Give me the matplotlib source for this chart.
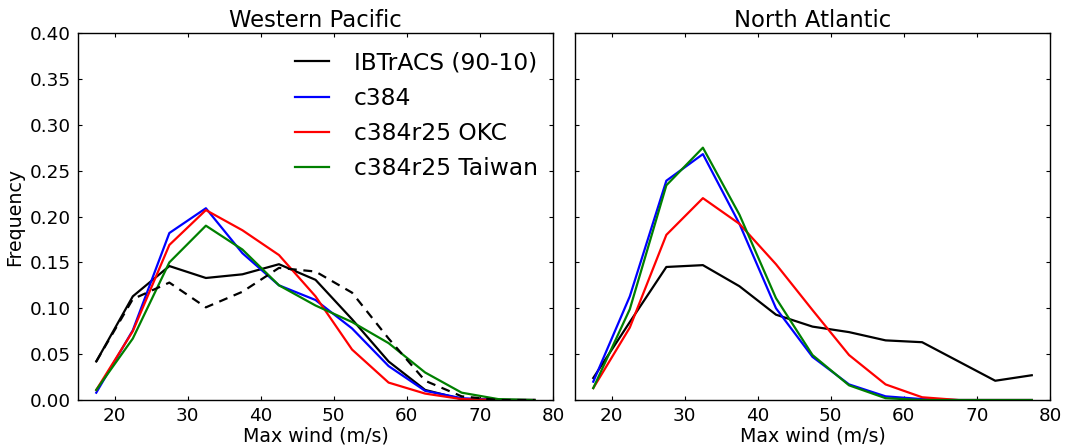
import numpy as np
import matplotlib
matplotlib.use("Agg")
import matplotlib.pyplot as plt

# Wind-speed bin centres (m/s)
bins = [17.5, 22.5, 27.5, 32.5, 37.5, 42.5, 47.5, 52.5, 57.5, 62.5, 67.5, 72.5, 77.5]

# Western Pacific frequencies
wp_obs = [0.042, 0.113, 0.146, 0.133, 0.137, 0.148, 0.131, 0.088, 0.042, 0.011, 0.001, 0.0, 0.0]
wp_obs_alt = [0.042, 0.110, 0.128, 0.101, 0.118, 0.144, 0.140, 0.117, 0.067, 0.021, 0.004, 0.0, 0.0]
wp_c384 = [0.008, 0.076, 0.182, 0.209, 0.160, 0.125, 0.109, 0.078, 0.037, 0.010, 0.002, 0.0, 0.0]
wp_okc = [0.011, 0.075, 0.169, 0.207, 0.185, 0.158, 0.113, 0.055, 0.019, 0.007, 0.001, 0.0, 0.0]
wp_taiwan = [0.011, 0.067, 0.150, 0.190, 0.164, 0.125, 0.103, 0.085, 0.062, 0.030, 0.008, 0.001, 0.0]

# North Atlantic frequencies
na_obs = [0.024, 0.085, 0.145, 0.147, 0.124, 0.093, 0.080, 0.074, 0.065, 0.063, 0.042, 0.021, 0.027]
na_c384 = [0.020, 0.113, 0.239, 0.268, 0.192, 0.100, 0.047, 0.017, 0.004, 0.001, 0.0, 0.0, 0.0]
na_okc = [0.013, 0.079, 0.180, 0.220, 0.192, 0.148, 0.098, 0.049, 0.017, 0.003, 0.0, 0.0, 0.0]
na_taiwan = [0.013, 0.099, 0.234, 0.275, 0.202, 0.111, 0.049, 0.016, 0.002, 0.0, 0.0, 0.0, 0.0]

labels = ["IBTrACS (90-10)", "c384", "c384r25 OKC", "c384r25 Taiwan"]
colors = ["black", "blue", "red", "green"]
yticks = [0.00, 0.05, 0.10, 0.15, 0.20, 0.25, 0.30, 0.35, 0.40]
xticks = [20, 30, 40, 50, 60, 70, 80]

plt.rcParams["font.family"] = ["DejaVu Sans"]

fig = plt.figure(figsize=(10.67, 4.47), dpi=100)
ax1 = fig.add_axes([0.0731, 0.1051, 0.4452, 0.8211])
ax2 = fig.add_axes([0.5389, 0.1051, 0.4452, 0.8211])

lw = 1.6
for ax, series in [(ax1, [wp_obs, wp_c384, wp_okc, wp_taiwan]),
                   (ax2, [na_obs, na_c384, na_okc, na_taiwan])]:
    for vals, c, lab in zip(series, colors, labels):
        ax.plot(bins, vals, color=c, lw=lw, label=lab)
    ax.set_xlim(15, 80)
    ax.set_ylim(0, 0.40)
    ax.set_xticks(xticks)
    ax.set_yticks(yticks)
    ax.tick_params(direction="in", top=True, right=True, length=3, width=0.8,
                   labelsize=13.2, pad=5)
    ax.set_xlabel("Max wind (m/s)", fontsize=13.7, labelpad=1)
    for s in ax.spines.values():
        s.set_linewidth(1.0)

ax1.plot(bins, wp_obs_alt, color="black", lw=lw, ls="--", dashes=(4, 3))
ax1.yaxis.set_major_formatter(matplotlib.ticker.FormatStrFormatter("%.2f"))
ax2.tick_params(labelleft=False)

ax1.set_ylabel("Frequency", fontsize=13.7, labelpad=4)
ax1.set_title("Western Pacific", fontsize=16.4, pad=4)
ax2.set_title("North Atlantic", fontsize=16.4, pad=4)

ax1.legend(loc="upper right", bbox_to_anchor=(1.007, 1.0), frameon=False,
           fontsize=16.8, handlelength=1.45, handletextpad=1.05,
           labelspacing=0.52, borderaxespad=0.4)

fig.savefig("out.png", dpi=100)
